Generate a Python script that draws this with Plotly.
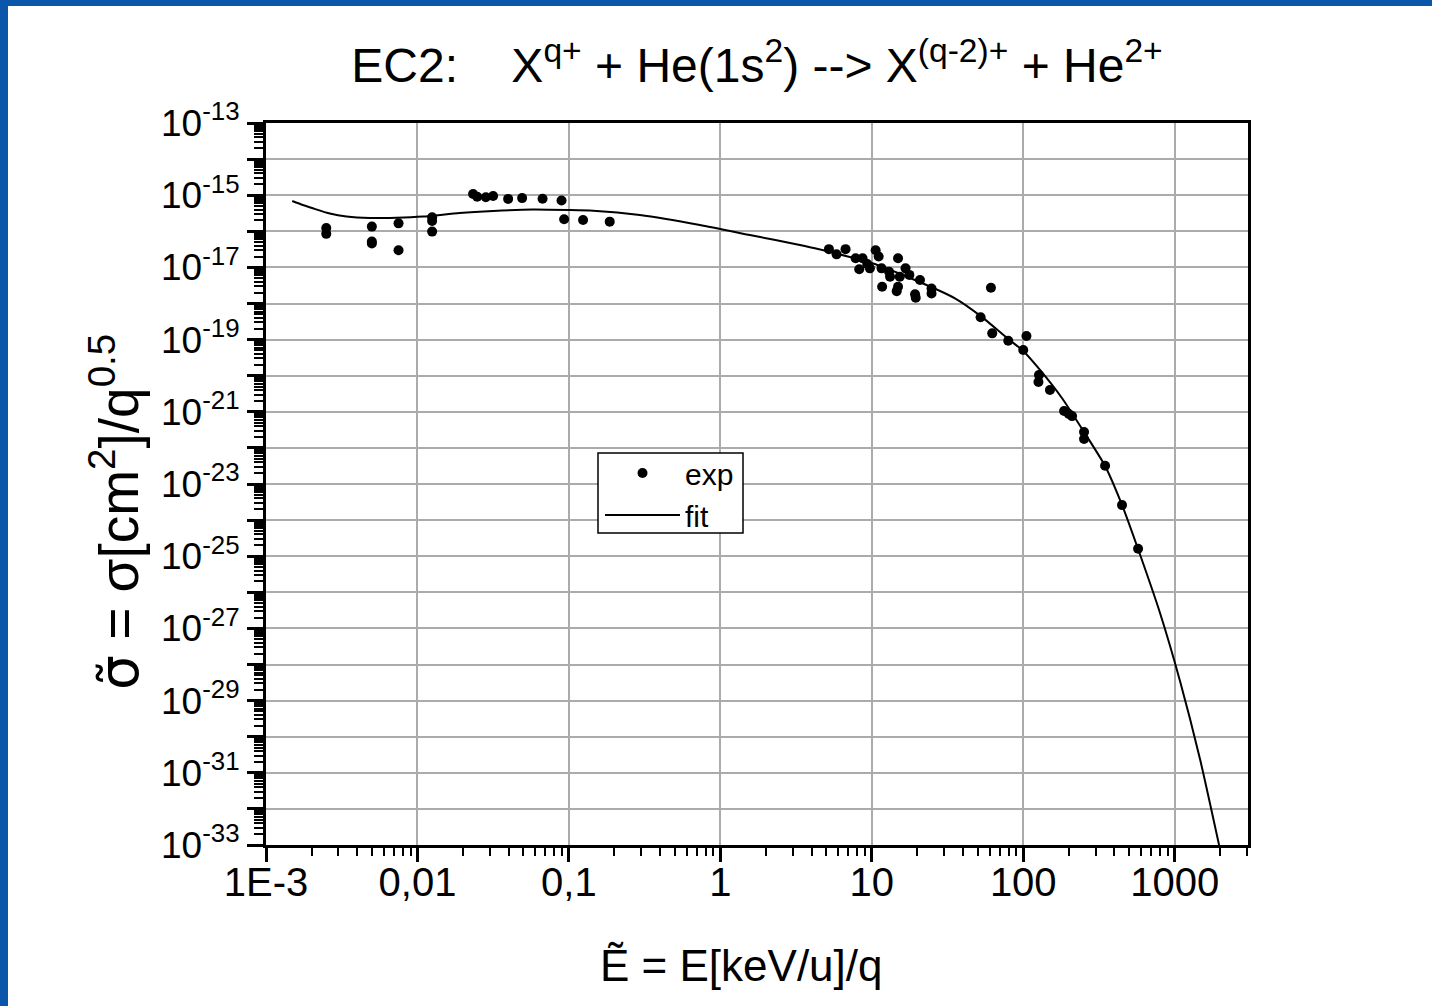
import plotly.graph_objects as go

# Measured scaled cross sections for double electron capture on He
exp_E = [0.0025, 0.0025, 0.005, 0.005, 0.005, 0.0075, 0.0075, 0.0125, 0.0125, 0.0125,
         0.0233, 0.0248, 0.0283, 0.0316, 0.0397, 0.0491, 0.067, 0.0894, 0.093, 0.124, 0.186,
         5.21, 5.85, 6.71, 7.82, 8.69, 8.26, 9.33, 9.71, 10.6, 11.1, 11.6, 11.7, 13.0, 13.2,
         14.9, 15.3, 14.9, 14.6, 16.7, 17.7, 19.3, 19.5, 20.8, 24.8, 24.8,
         52.3, 61.2, 62.4, 79.6, 100, 105, 127, 126, 150, 186, 200, 210, 252, 252,
         347, 449, 573]
exp_sigma = [1.23e-16, 8.5e-17, 1.35e-16, 5.2e-17, 4.6e-17, 1.66e-16, 3.0e-17, 2.45e-16, 1.94e-16, 9.8e-17,
             1.08e-15, 9.1e-16, 8.8e-16, 9.5e-16, 7.9e-16, 8.3e-16, 8.0e-16, 7.1e-16, 2.15e-16, 2.05e-16, 1.85e-16,
             3.2e-17, 2.3e-17, 3.2e-17, 1.79e-17, 1.79e-17, 8.85e-18, 1.24e-17, 9.4e-18, 3.0e-17, 2.0e-17,
             9.4e-18, 2.9e-18, 7.6e-18, 5.5e-18, 1.79e-17, 5.5e-18, 2.9e-18, 2.2e-18, 9.4e-18, 6.2e-18,
             1.8e-18, 1.45e-18, 4.5e-18, 2.6e-18, 1.9e-18,
             4.15e-19, 2.74e-18, 1.49e-19, 9.3e-20, 5.15e-20, 1.26e-19, 1.05e-20, 6.7e-21, 4.0e-21,
             1.05e-21, 8.7e-22, 7.6e-22, 2.75e-22, 1.77e-22, 3.2e-23, 2.6e-24, 1.6e-25]

# Fitted curve
fit_E = [0.00149, 0.00175, 0.00204, 0.00264, 0.0034, 0.00484, 0.00726, 0.0109, 0.019, 0.0316,
         0.0578, 0.0998, 0.1445, 0.294, 0.733, 1.567, 3.35, 4.21, 10.07, 17.9, 35.4, 52.4, 79.6,
         100, 129, 180, 252, 347, 449, 573, 800, 1084, 1469, 1963]
fit_sigma = [6.9e-16, 5.36e-16, 4.34e-16, 3.11e-16, 2.57e-16, 2.33e-16, 2.38e-16, 2.57e-16, 3.21e-16,
             3.65e-16, 4.02e-16, 3.89e-16, 3.72e-16, 2.83e-16, 1.50e-16, 7.9e-17, 4.17e-17, 3.38e-17,
             1.30e-17, 5.08e-18, 1.39e-18, 4.47e-19, 1.04e-19, 4.83e-20, 1.44e-20, 2.41e-21, 2.75e-22,
             3.15e-23, 2.62e-24, 1.58e-25, 2.67e-27, 3.49e-29, 2.41e-31, 1.0e-33]

# Axis ticks
x_decades = [-3, -2, -1, 0, 1, 2, 3]
x_ticktext = ["1E-3", "0,01", "0,1", "1", "10", "100", "1000"]
y_decades = list(range(-33, -12))
y_labelled = list(range(-33, -12, 2))

x_tickvals = [10.0 ** k for k in x_decades]
x_minor = [m * 10.0 ** k for k in range(-3, 4) for m in range(2, 10)]
y_tickvals = [10.0 ** k for k in y_decades]
y_ticktext = [f"10<sup>{k}</sup>" if k in y_labelled else "" for k in y_decades]
y_minor = [m * 10.0 ** k for k in range(-34, -12) for m in range(2, 10)]

FONT = "Arial, Liberation Sans, sans-serif"
W, H = 1432, 1006
L, R, T, B = 266, 1248, 123, 845
pw, ph = R - L, B - T


def px_x(p):
    return (p - L) / pw


def px_y(p):
    return (B - p) / ph


fig = go.Figure()
fig.add_trace(go.Scatter(
    x=exp_E, y=exp_sigma, mode="markers", name="exp",
    marker=dict(color="black", size=10, line=dict(width=0)),
))
fig.add_trace(go.Scatter(
    x=fit_E, y=fit_sigma, mode="lines", name="fit",
    line=dict(color="black", width=2, shape="spline", smoothing=0.6),
))

axis_common = dict(
    showline=True, linecolor="black", linewidth=3, mirror=True,
    showgrid=True, gridcolor="#ababab", gridwidth=1.5,
    ticks="outside", tickcolor="black", tickwidth=3,
    zeroline=False,
)

fig.update_xaxes(
    type="log", range=[-3, 3.484],
    tickmode="array", tickvals=x_tickvals, ticktext=x_ticktext, ticklen=14,
    ticklabelstandoff=-14,
    tickfont=dict(family=FONT, size=40, color="black"),
    minor=dict(tickmode="array", tickvals=x_minor, ticks="outside", ticklen=8,
               tickwidth=2, tickcolor="black", showgrid=False),
    **axis_common,
)
fig.update_yaxes(
    type="log", range=[-33, -13],
    tickmode="array", tickvals=y_tickvals, ticktext=y_ticktext, ticklen=16,
    tickfont=dict(family=FONT, size=37, color="black"),
    minor=dict(tickmode="array", tickvals=y_minor, ticks="outside", ticklen=9,
               tickwidth=2, tickcolor="black", showgrid=False),
    **axis_common,
)

nb = "\u00a0"
sigma_t = '<span style="font-family:DejaVu Sans">σ\u0303</span>'
fig.update_layout(
    width=W, height=H,
    margin=dict(l=L, r=W - R, t=T, b=H - B, pad=0),
    paper_bgcolor="white", plot_bgcolor="white",
    font=dict(family=FONT, color="black"),
    title=dict(
        text=f"EC2:{nb*4}X<sup>q+</sup> + He(1s<sup>2</sup>) --&gt; X<sup>(q-2)+</sup> + He<sup>2+</sup>",
        x=757 / W, y=1 - 65 / H, xanchor="center", yanchor="middle",
        font=dict(family=FONT, size=48, color="black"),
    ),
    showlegend=True,
    legend=dict(
        x=px_x(600), y=px_y(447), xanchor="left", yanchor="top",
        bgcolor="rgba(0,0,0,0)", borderwidth=0,
        font=dict(family=FONT, size=30, color="black"),
        itemwidth=75,
    ),
    annotations=[
        dict(text=f"{sigma_t} = σ[cm<sup>2</sup>]/q<sup>0.5</sup>", textangle=-90,
             x=px_x(115), y=px_y(512), xref="paper", yref="paper",
             xanchor="center", yanchor="middle", showarrow=False,
             font=dict(family=FONT, size=55, color="black")),
        dict(text="\u1ebc = E[keV/u]/q",
             x=px_x(741), y=px_y(965), xref="paper", yref="paper",
             xanchor="center", yanchor="middle", showarrow=False,
             font=dict(family=FONT, size=44, color="black")),
    ],
    shapes=[
        # legend frame
        dict(type="rect", xref="paper", yref="paper",
             x0=px_x(598), x1=px_x(743), y0=px_y(533), y1=px_y(453),
             fillcolor="white", line=dict(color="black", width=1.5), layer="above"),
        # blue frame along the left and top edges of the slide
        dict(type="rect", xref="paper", yref="paper",
             x0=px_x(0), x1=px_x(8), y0=px_y(H), y1=px_y(0),
             fillcolor="#0b55aa", line=dict(width=0), layer="above"),
        dict(type="rect", xref="paper", yref="paper",
             x0=px_x(0), x1=px_x(W), y0=px_y(6), y1=px_y(0),
             fillcolor="#0b55aa", line=dict(width=0), layer="above"),
    ],
)

fig.write_html("out.html")
